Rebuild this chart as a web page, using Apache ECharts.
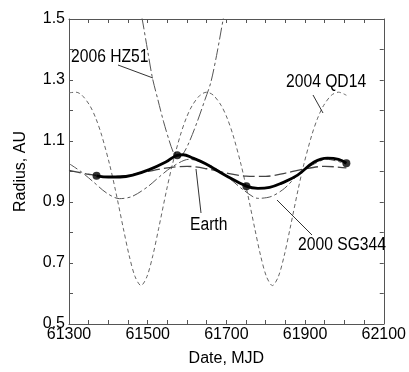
<!DOCTYPE html>
<html>
<head>
<meta charset="utf-8">
<script src="https://cdn.jsdelivr.net/npm/echarts@6/dist/echarts.min.js"></script>
<style>
  html, body { margin: 0; padding: 0; background: #fff; }
  #chart { width: 409px; height: 372px; }
</style>
</head>
<body>
<div id="chart"></div>
<script>
// Earth orbit radius, AU
const earthDate = [61300, 61350, 61400, 61450, 61500, 61550, 61600, 61650, 61700, 61750, 61800, 61850, 61900, 61950, 62005];
const earthR = [1.004, 0.991, 0.983, 0.987, 1.000, 1.012, 1.017, 1.009, 0.995, 0.985, 0.984, 0.995, 1.009, 1.017, 1.012];

// 2000 SG344
const sgDate = [61300, 61330, 61361, 61395, 61428, 61460, 61500, 61530, 61562, 61605, 61650, 61680, 61710, 61745, 61780, 61814, 61848, 61881, 61910, 61955, 62005];
const sgR = [1.026, 1.000, 0.967, 0.930, 0.911, 0.918, 0.950, 0.983, 1.015, 1.040, 1.025, 1.004, 0.975, 0.938, 0.912, 0.918, 0.945, 0.988, 1.015, 1.040, 1.025];

// 2004 QD14
const qdDate = [61300, 61318, 61333, 61353, 61368, 61383, 61403, 61418, 61438, 61453, 61468, 61483, 61498, 61513, 61528, 61548, 61563, 61583, 61598, 61613, 61633, 61650,
  61667, 61687, 61702, 61717, 61737, 61752, 61772, 61787, 61802, 61817, 61832, 61847, 61862, 61882, 61897, 61917, 61932, 61947, 61967, 61985, 62005];
const qdR = [1.258, 1.26, 1.25, 1.216, 1.175, 1.119, 1.024, 0.939, 0.814, 0.724, 0.655, 0.626, 0.655, 0.724, 0.814, 0.939, 1.024, 1.119, 1.175, 1.216, 1.25, 1.26,
  1.25, 1.216, 1.175, 1.119, 1.024, 0.939, 0.814, 0.724, 0.655, 0.626, 0.655, 0.724, 0.814, 0.939, 1.024, 1.119, 1.175, 1.216, 1.25, 1.26, 1.25];

// 2006 HZ51
const hzDate = [61465, 61486, 61500, 61512, 61525, 61540, 61555, 61567, 61578, 61590, 61605, 61625, 61646, 61660, 61675, 61692, 61710];
const hzR = [1.64, 1.50, 1.395, 1.307, 1.24, 1.165, 1.10, 1.058, 1.045, 1.058, 1.095, 1.16, 1.237, 1.29, 1.38, 1.50, 1.62];

// spacecraft trajectory and encounter points
const trajDate = [61370, 61400, 61430, 61462, 61504, 61546, 61575, 61590, 61613, 61646, 61697, 61751, 61780, 61810, 61839, 61881, 61923, 61957, 61985, 62005];
const trajR = [0.986, 0.982, 0.982, 0.988, 1.006, 1.031, 1.053, 1.055, 1.045, 1.026, 0.988, 0.952, 0.945, 0.948, 0.961, 0.988, 1.031, 1.044, 1.040, 1.027];
const dotDate = [61370, 61575, 61751, 62005];
const dotR = [0.986, 1.053, 0.952, 1.027];

const FONT = '"Liberation Sans", Arial, sans-serif';
const FS = 16;
const AXIS_COLOR = '#555';

function pairs(xs, ys) {
  return xs.map((x, i) => [x, ys[i]]);
}

function xAxisBase(pos) {
  return {
    type: 'value',
    position: pos,
    min: 61300,
    max: 62100,
    interval: 50,
    axisLine: { show: true, lineStyle: { color: AXIS_COLOR, width: 1 } },
    axisTick: { show: true, inside: true, length: 4, lineStyle: { color: AXIS_COLOR } },
    splitLine: { show: false },
    axisLabel: {
      show: pos === 'bottom',
      margin: 3,
      fontSize: FS,
      fontFamily: FONT,
      color: '#000',
      formatter: (v) => ((v - 61300) % 200 === 0 ? String(v) : '')
    }
  };
}

function yAxisBase(pos) {
  return {
    type: 'value',
    position: pos,
    min: 0.5,
    max: 1.5,
    interval: 0.1,
    axisLine: { show: true, lineStyle: { color: AXIS_COLOR, width: 1 } },
    axisTick: { show: true, inside: true, length: 4, lineStyle: { color: AXIS_COLOR } },
    splitLine: { show: false },
    axisLabel: {
      show: pos === 'left',
      margin: 4,
      fontSize: FS,
      fontFamily: FONT,
      color: '#000',
      formatter: (v) => (Math.round(v * 10) % 2 === 1 ? v.toFixed(1) : '')
    }
  };
}

const chart = echarts.init(document.getElementById('chart'), null, { renderer: 'canvas' });

const xBottom = Object.assign(xAxisBase('bottom'), {
  name: 'Date, MJD',
  nameLocation: 'middle',
  nameGap: 27,
  nameTextStyle: { fontSize: FS, fontFamily: FONT, color: '#000' }
});
const yLeft = Object.assign(yAxisBase('left'), {
  name: 'Radius, AU',
  nameLocation: 'middle',
  nameGap: 40,
  nameTextStyle: { fontSize: FS, fontFamily: FONT, color: '#000' }
});

// annotation text: slightly taller, condensed like the original figure
function label(text, x, y) {
  return {
    type: 'text',
    x: x,
    y: y,
    scaleX: 0.87,
    style: { text: text, font: '18px ' + FONT, fill: '#000', verticalAlign: 'middle' },
    z: 10
  };
}
function leader(x1, y1, x2, y2) {
  return {
    type: 'line',
    shape: { x1: x1, y1: y1, x2: x2, y2: y2 },
    style: { stroke: '#333', lineWidth: 1 },
    z: 10
  };
}

chart.setOption({
  animation: false,
  backgroundColor: '#fff',
  grid: { left: 69, right: 22, top: 19, bottom: 45 },
  xAxis: [xBottom, xAxisBase('top')],
  yAxis: [yLeft, yAxisBase('right')],
  series: [
    {
      name: '2004 QD14',
      type: 'line',
      data: pairs(qdDate, qdR),
      smooth: 0.3,
      symbol: 'none',
      lineStyle: { color: '#666', width: 1, type: [4, 3] },
      z: 2
    },
    {
      name: '2006 HZ51',
      type: 'line',
      data: pairs(hzDate, hzR),
      smooth: 0.3,
      symbol: 'none',
      lineStyle: { color: '#555', width: 1, type: [12, 3, 3, 3] },
      z: 2
    },
    {
      name: '2000 SG344',
      type: 'line',
      data: pairs(sgDate, sgR),
      smooth: 0.3,
      symbol: 'none',
      lineStyle: { color: '#555', width: 1, type: [10, 3, 3, 3] },
      z: 2
    },
    {
      name: 'Earth',
      type: 'line',
      data: pairs(earthDate, earthR),
      smooth: 0.3,
      symbol: 'none',
      lineStyle: { color: '#444', width: 1.3, type: [12, 4] },
      z: 3
    },
    {
      name: 'Trajectory',
      type: 'line',
      data: pairs(trajDate, trajR),
      smooth: 0.4,
      symbol: 'none',
      lineStyle: { color: '#000', width: 2.8 },
      z: 4
    },
    {
      name: 'Encounters',
      type: 'scatter',
      data: pairs(dotDate, dotR),
      symbolSize: 8,
      itemStyle: { color: '#000' },
      z: 5
    }
  ],
  graphic: [
    label('2006 HZ51', 71, 57),
    leader(118, 65, 153, 78),
    label('2004 QD14', 286, 82),
    leader(313, 95, 323, 113),
    label('Earth', 190, 225),
    leader(196, 169, 201, 213),
    label('2000 SG344', 298, 245),
    leader(277, 200, 312, 235)
  ]
});
</script>
</body>
</html>
